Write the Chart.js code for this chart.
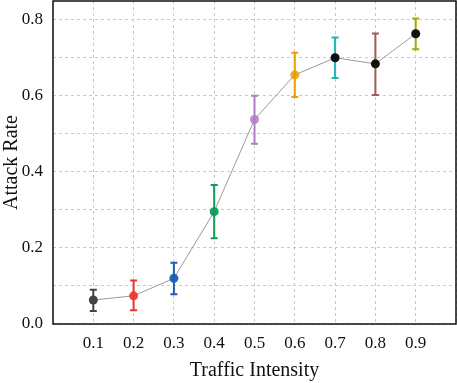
<!DOCTYPE html>
<html>
<head>
<meta charset="UTF-8">
<title>Attack Rate vs Traffic Intensity</title>
<script src="https://cdn.jsdelivr.net/npm/chart.js"></script>
<style>
  html, body { margin: 0; padding: 0; background: #fff; }
  #wrap { width: 457px; height: 383px; }
</style>
</head>
<body>
<div id="wrap"><canvas id="grafica" width="457" height="383"></canvas></div>
<script>
// datos
const intensidad = [0.1, 0.2, 0.3, 0.4, 0.5, 0.6, 0.7, 0.8, 0.9];
const tasa      = [0.063, 0.074, 0.120, 0.295, 0.537, 0.654, 0.699, 0.683, 0.762];
const errAbajo  = [0.034, 0.036, 0.078, 0.225, 0.473, 0.596, 0.646, 0.601, 0.721];
const errArriba = [0.090, 0.114, 0.161, 0.365, 0.599, 0.712, 0.752, 0.763, 0.802];
const coloresBarra = ['#444444', '#e8342e', '#1a5fb4', '#0e9a5a', '#b07cc6', '#e6a000', '#17b8b8', '#a05a5a', '#a8a800'];
const coloresPunto = ['#444444', 'rgba(232,52,46,0.9)', 'rgba(26,95,180,0.95)', 'rgba(14,154,90,0.95)', 'rgba(176,124,198,0.85)', 'rgba(230,160,0,0.85)', '#111111', '#111111', '#111111'];
const ticksX = [0.1, 0.2, 0.3, 0.4, 0.5, 0.6, 0.7, 0.8, 0.9];
const ticksY = [0.0, 0.2, 0.4, 0.6, 0.8];

const fuente = "'Liberation Serif', 'Times New Roman', serif";

// barras de error dibujadas con las escalas del grafico
const barrasError = {
  id: 'barrasError',
  beforeDatasetsDraw(chart) {
    const ctx = chart.ctx;
    const x = chart.scales.x, y = chart.scales.y;
    ctx.save();
    ctx.lineWidth = 2;
    intensidad.forEach((v, i) => {
      const px = x.getPixelForValue(v);
      const y1 = y.getPixelForValue(errAbajo[i]);
      const y2 = y.getPixelForValue(errArriba[i]);
      ctx.strokeStyle = coloresBarra[i];
      ctx.beginPath();
      ctx.moveTo(px, y1); ctx.lineTo(px, y2);
      ctx.moveTo(px - 3.5, y1); ctx.lineTo(px + 3.5, y1);
      ctx.moveTo(px - 3.5, y2); ctx.lineTo(px + 3.5, y2);
      ctx.stroke();
    });
    ctx.restore();
  }
};

// marco negro alrededor del area
const marco = {
  id: 'marco',
  afterDraw(chart) {
    const a = chart.chartArea, ctx = chart.ctx;
    ctx.save();
    ctx.strokeStyle = '#111';
    ctx.lineWidth = 1.5;
    ctx.strokeRect(a.left, a.top, a.right - a.left, a.bottom - a.top);
    ctx.restore();
  }
};

new Chart(document.getElementById('grafica'), {
  type: 'line',
  data: {
    datasets: [{
      data: intensidad.map((v, i) => ({ x: v, y: tasa[i] })),
      borderColor: '#9a9a9a',
      borderWidth: 1,
      pointRadius: 4.5,
      pointBorderWidth: 0,
      pointBackgroundColor: coloresPunto,
      tension: 0
    }]
  },
  options: {
    responsive: false,
    animation: false,
    layout: { autoPadding: false, padding: { top: 1, right: 1, left: 0, bottom: 0 } },
    plugins: { legend: { display: false }, tooltip: { enabled: false } },
    scales: {
      x: {
        type: 'linear', min: 0, max: 1.0,
        afterFit: s => { s.height = 59; s.paddingLeft = 0; s.paddingRight = 0; },
        afterBuildTicks: s => { s.ticks = [0, ...ticksX, 1.0].map(v => ({ value: v })); },
        grid: { color: '#c8c8c8', lineWidth: 1, drawTicks: false },
        border: { display: false, dash: [3, 3] },
        ticks: {
          padding: 9, color: '#111', font: { family: fuente, size: 17 },
          maxRotation: 0,
          callback: v => ticksX.some(t => Math.abs(t - v) < 1e-6) ? v.toFixed(1) : ''
        },
        title: { display: true, text: 'Traffic Intensity', color: '#111', font: { family: fuente, size: 20 }, padding: { top: 0, bottom: 0 } }
      },
      y: {
        type: 'linear', min: 0, max: 0.848,
        afterFit: s => { s.width = 53; s.paddingTop = 0; s.paddingBottom = 0; },
        afterBuildTicks: s => { s.ticks = [0, 0.1, 0.2, 0.3, 0.4, 0.5, 0.6, 0.7, 0.8].map(v => ({ value: v })); },
        grid: { color: '#c8c8c8', lineWidth: 1, drawTicks: false },
        border: { display: false, dash: [3, 3] },
        ticks: {
          padding: 10, color: '#111', font: { family: fuente, size: 17 },
          callback: v => ticksY.some(t => Math.abs(t - v) < 1e-6) ? v.toFixed(1) : ''
        },
        title: { display: true, text: 'Attack Rate', color: '#111', font: { family: fuente, size: 20 }, padding: { top: 0, bottom: 0 } }
      }
    }
  },
  plugins: [barrasError, marco]
});
</script>
</body>
</html>
